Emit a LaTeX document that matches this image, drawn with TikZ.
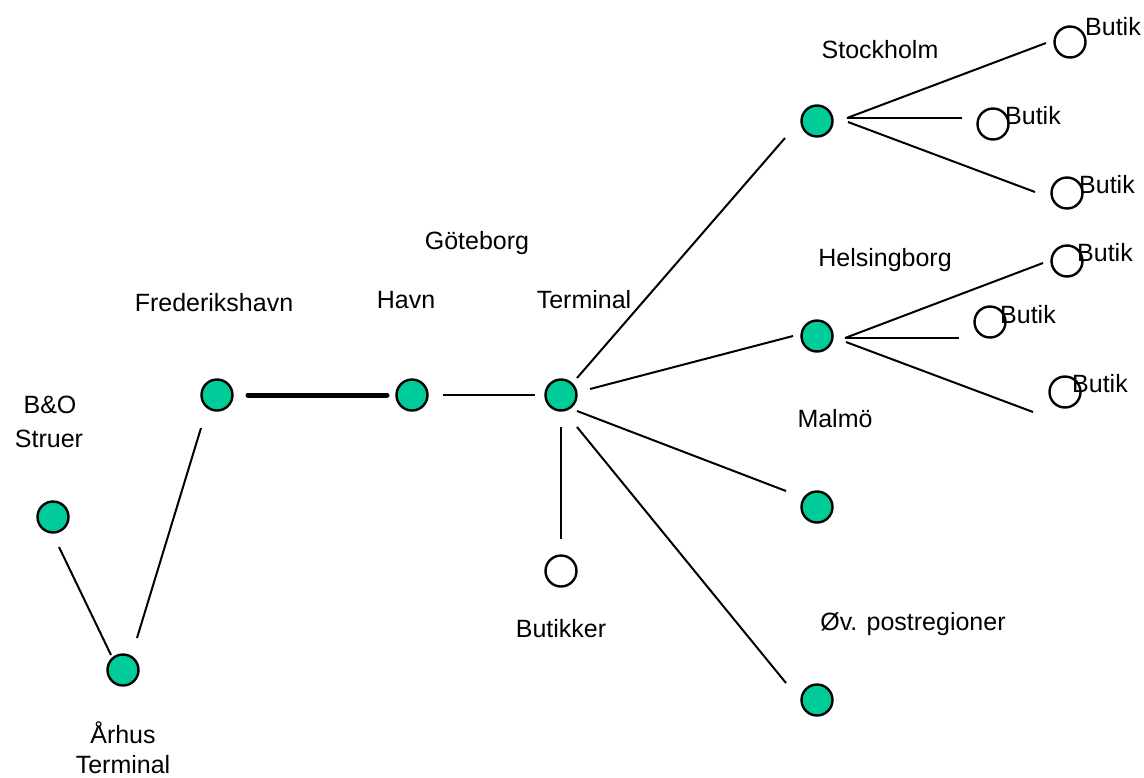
\documentclass[tikz,border=0pt]{standalone}
\usepackage{fontspec}
\setmainfont{Liberation Sans}
\usetikzlibrary{calc}
\definecolor{hubgreen}{RGB}{0,204,153}
\tikzset{
  hub/.style={circle,draw=black,line width=2.4pt,fill=hubgreen,minimum size=31pt,inner sep=0pt},
  shop/.style={circle,draw=black,line width=2.4pt,fill=white,minimum size=31pt,inner sep=0pt},
  lbl/.style={anchor=base,inner sep=0pt,font=\fontsize{25}{30}\selectfont},
  shoplbl/.style={anchor=base west,inner sep=0pt,font=\fontsize{25}{30}\selectfont},
  link/.style={line width=2pt,black},
  thicklink/.style={line width=5pt,black,line cap=round},
  midlink/.style={line width=2.8pt,black}
}
\begin{document}
\begin{tikzpicture}[x=1pt,y=-1pt]
\useasboundingbox (0,0) rectangle (1144,777);
% nodes
\node[hub] (bo) at (53,517) {};
\node[hub] (ar) at (123,670) {};
\node[hub] (fr) at (217,395) {};
\node[hub] (ha) at (412,395) {};
\node[hub] (te) at (561,395) {};
\node[shop] (bu) at (561,571) {};
\node[hub] (st) at (817,121) {};
\node[hub] (he) at (817,336) {};
\node[hub] (ma) at (817,507) {};
\node[hub] (ov) at (817,700) {};
\node[shop] (s1) at (1070,42) {};
\node[shop] (s2) at (993,124) {};
\node[shop] (s3) at (1067,193) {};
\node[shop] (s4) at (1067,261) {};
\node[shop] (s5) at (990,322) {};
\node[shop] (s6) at (1065,392) {};
% labels
\node[lbl] (lbo) at (50,413) {B\&O};
\node[lbl] (lst) at (49,447) {Struer};
\node[lbl] (lar) at (123,743) {Århus};
\node[lbl] (lat) at (123,773) {Terminal};
\node[lbl] (lfr) at (214,311) {Frederikshavn};
\node[lbl] (lha) at (406,308) {Havn};
\node[lbl] (lte) at (584,308) {Terminal};
\node[lbl] (lgo) at (477,249) {Göteborg};
\node[lbl] (lbu) at (561,637) {Butikker};
\node[lbl] (lsk) at (880,58) {Stockholm};
\node[lbl] (lhe) at (885,266) {Helsingborg};
\node[lbl] (lma) at (835,427) {Malmö};
\node[lbl] (lov) at (913,630) {Øv. postregioner};
\node[shoplbl] (l1) at (1085,35) {Butik};
\node[shoplbl] (l2) at (1005,124) {Butik};
\node[shoplbl] (l3) at (1079,193) {Butik};
\node[shoplbl] (l4) at (1077,261) {Butik};
\node[shoplbl] (l5) at (1000,323) {Butik};
\node[shoplbl] (l6) at (1072,392) {Butik};
% connectors
\draw[link] ($(bo)+(6,30)$) -- ($(ar)+(-12,-15)$);
\draw[link] ($(ar)+(14,-32)$) -- ($(fr)+(-16,33)$);
\draw[thicklink] ($(fr)+(31,0)$) -- ($(ha)+(-25,0)$);
\draw[link] ($(ha)+(31,0)$) -- ($(te)+(-26,0)$);
\draw[link] ($(te)+(16,-17)$) -- ($(st)+(-32,17)$);
\draw[link] ($(te)+(29,-6)$) -- ($(he)+(-24,0)$);
\draw[link] ($(te)+(16,16)$) -- ($(ma)+(-31,-16)$);
\draw[link] ($(te)+(16,32)$) -- ($(ov)+(-31,-17)$);
\draw[link] ($(te)+(0,32)$) -- ($(bu)+(0,-32)$);
\draw[link] ($(st)+(30,-3)$) -- ($(s1)+(-24,1)$);
\draw[midlink] ($(st)+(30,-3)$) -- ($(s2)+(-31,-6)$);
\draw[link] ($(st)+(31,1)$) -- ($(s3)+(-32,-1)$);
\draw[link] ($(he)+(28,2)$) -- ($(s4)+(-24,2)$);
\draw[midlink] ($(he)+(28,2)$) -- ($(s5)+(-31,16)$);
\draw[link] ($(he)+(29,6)$) -- ($(s6)+(-32,20)$);
\end{tikzpicture}
\end{document}
